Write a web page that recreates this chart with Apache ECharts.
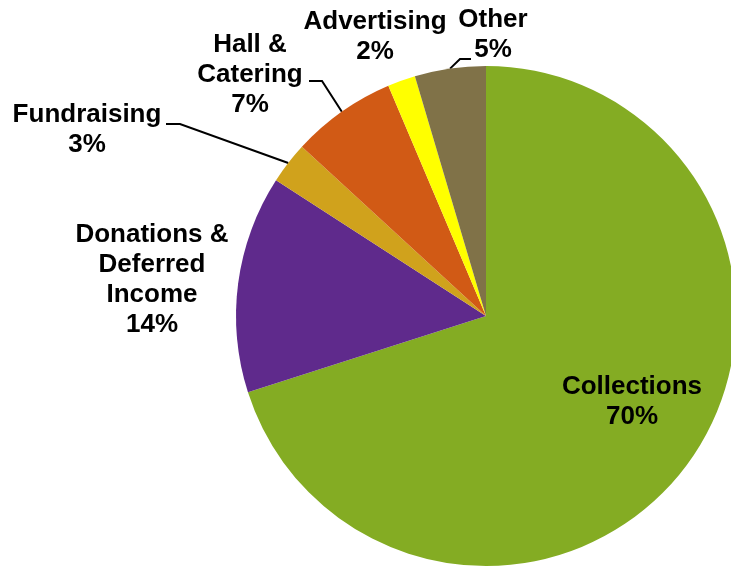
<!DOCTYPE html>
<html>
<head>
<meta charset="utf-8">
<style>html,body{margin:0;padding:0;background:#fff;}#chart{width:731px;height:567px;}</style>
<script src="https://cdn.jsdelivr.net/npm/echarts@6/dist/echarts.min.js"></script>
</head>
<body>
<div id="chart"></div>
<script>
const categories = ['Collections', 'Donations &\nDeferred\nIncome', 'Fundraising', 'Hall &\nCatering', 'Advertising', 'Other'];
const values = [70.2, 14.1, 2.7, 6.8, 1.8, 4.6];
const colors = ['#84AC23', '#5F2A8C', '#D0A21C', '#D15A15', '#FFFF00', '#807248'];
const showLine = [false, false, true, true, false, true];
// label anchor positions (label centers, px)
const labelPos = [[632, 402], [152, 280], [87, 130], [250, 75], [375, 37], [493, 35]];
// leader line elbow and end points (px), null when no leader line
const leaderPts = [null, null, [[180, 124], [166, 124]], [[322, 81], [309, 81]], null, [[460, 59], [471, 59]]];

const chart = echarts.init(document.getElementById('chart'), null, {renderer: 'canvas'});
chart.setOption({
  animation: false,
  series: [{
    type: 'pie',
    center: [486, 316],
    radius: 250,
    startAngle: 90,
    clockwise: true,
    data: categories.map((c, i) => ({
      name: c,
      value: values[i],
      itemStyle: {color: colors[i]},
      label: {position: i === 0 ? 'inside' : 'outside'},
      labelLine: {show: showLine[i]}
    })),
    label: {
      formatter: p => p.name + '\n' + Math.round(p.percent) + '%',
      color: '#000',
      fontFamily: 'Liberation Sans, Arial, sans-serif',
      fontWeight: 'bold',
      fontSize: 26,
      lineHeight: 30,
      align: 'center'
    },
    labelLine: {
      lineStyle: {color: '#000', width: 2},
      length: 20,
      length2: 14
    },
    labelLayout: p => {
      const i = p.dataIndex;
      const o = {
        x: labelPos[i][0],
        y: labelPos[i][1],
        align: 'center',
        verticalAlign: 'middle'
      };
      if (leaderPts[i] && p.labelLinePoints) {
        o.labelLinePoints = [p.labelLinePoints[0], leaderPts[i][0], leaderPts[i][1]];
      }
      return o;
    }
  }]
});
</script>
</body>
</html>
